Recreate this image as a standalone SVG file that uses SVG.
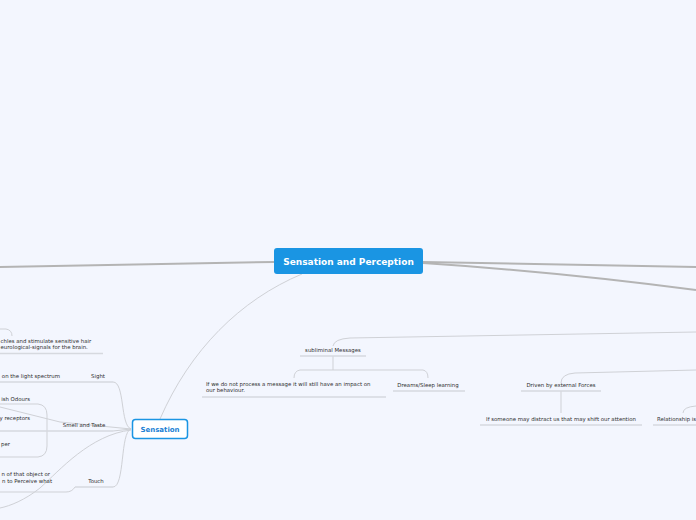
<svg xmlns="http://www.w3.org/2000/svg" width="696" height="520" viewBox="0 0 696 520">
<style>
.t{font-family:"DejaVu Sans",Verdana,sans-serif;font-size:5.4px;fill:#2e2e2e}
.ul{stroke:#d6d9df;stroke-width:1.5;fill:none}
.c{stroke:#cfd1d6;stroke-width:1;fill:none}
.m{stroke:#b4b4b4;stroke-width:2;fill:none}
</style>
<rect width="696" height="520" fill="#f3f6fe"/>
<g id="connectors">
<path class="m" d="M274,262 L0,267"/>
<path class="m" d="M423,262 L696,267"/>
<path class="m" d="M423,263 Q560,272 696,290" stroke-width="1.3"/>
<path class="c" d="M302,274 C240,300 190,350 160,419" stroke="#bdbdbd"/>
<path class="c" d="M333,346 Q334,339 350,338 L696,332"/>
<path class="c" d="M333,356 L333,370 M300,370 L423,370 M300,370 Q294,371 294,378 M423,370 Q428,371 428,378"/>
<path class="c" d="M561,383 Q561,374 575,373 L696,370"/>
<path class="c" d="M561,391 L561,413"/>
<path class="c" d="M683,413 Q683,407 696,406"/>
<path class="c" d="M131,429 C120,425 125,382 113,382"/>
<path class="c" d="M131,429 C120,432 125,487 113,487"/>
<path class="c" d="M131,429 L60,422 L0,407"/>
<path class="c" d="M131,429 L113,431"/>
<path class="c" d="M131,430 C90,435 60,470 40,488 C25,500 10,506 0,508"/>
<path class="c" d="M0,404 L38,404 Q47,405 47,415 L47,446 Q47,456 38,457 L0,457"/>
<path class="c" d="M0,329 L6,329 Q12,330 12,336"/>
<path class="c" d="M75,487 Q72,492 66,492 L0,492"/>
</g>
<g id="central">
<rect x="274" y="248" width="149" height="26" rx="3" fill="#1a95e3"/>
<text x="348.5" y="264.5" text-anchor="middle" style="font-family:'DejaVu Sans',Verdana,sans-serif;font-size:9px;font-weight:bold;fill:#fff">Sensation and Perception</text>
</g>
<g id="sensation">
<rect x="132.5" y="419.5" width="55" height="19" rx="3" fill="#fff" stroke="#1a95e3" stroke-width="1.5"/>
<text x="160" y="431.5" text-anchor="middle" style="font-family:'DejaVu Sans',Verdana,sans-serif;font-size:7px;font-weight:bold;fill:#1a7fd4">Sensation</text>
</g>
<g id="subliminal">
<text class="t" x="333" y="352" text-anchor="middle">subliminal Messages</text>
<path class="ul" d="M300,356 L366,356"/>
</g>
<g id="impact">
<text class="t" x="206" y="386">If we do not process a message it will still have an impact on</text>
<text class="t" x="206" y="392">our behaviour.</text>
<path class="ul" d="M202,397 L386,397"/>
</g>
<g id="dreams">
<text class="t" x="428" y="386.5" text-anchor="middle">Dreams/Sleep learning</text>
<path class="ul" d="M393,391 L465,391"/>
</g>
<g id="driven">
<text class="t" x="561" y="386.5" text-anchor="middle">Driven by external Forces</text>
<path class="ul" d="M521,391 L601,391"/>
</g>
<g id="distract">
<text class="t" x="561" y="421" text-anchor="middle">If someone may distract us that may shift our attention</text>
<path class="ul" d="M480,425 L642,425"/>
</g>
<g id="relationship">
<text class="t" x="657" y="421">Relationship is</text>
<path class="ul" d="M653,425 L696,425"/>
</g>
<g id="hearing">
<text class="t" x="0.5" y="342.5">chles and stimulate sensitive hair</text>
<text class="t" x="0.5" y="349">eurological-signals for the brain.</text>
<path class="ul" d="M0,353.5 L103,353.5"/>
</g>
<g id="sight">
<text class="t" x="98" y="378" text-anchor="middle">Sight</text>
<path class="ul" d="M63,382 L113,382"/>
</g>
<g id="light">
<text class="t" x="60" y="378" text-anchor="end">on the light spectrum</text>
<path class="ul" d="M0,382 L63,382"/>
</g>
<g id="smell">
<text class="t" x="84" y="427" text-anchor="middle">Smell and Taste</text>
<path class="ul" d="M58,431 L113,431"/>
</g>
<g id="odours">
<text class="t" x="30" y="400.5" text-anchor="end">ish Odours</text>
</g>
<g id="receptors">
<text class="t" x="30" y="419.5" text-anchor="end">y receptors</text>
<path class="ul" d="M0,431 L58,431" stroke="#cfd2d8" stroke-width="2"/>
</g>
<g id="paper">
<text class="t" x="10" y="446" text-anchor="end">per</text>
</g>
<g id="touch">
<text class="t" x="96" y="482.5" text-anchor="middle">Touch</text>
<path class="ul" d="M75,487 L113,487"/>
</g>
<g id="perceive">
<text class="t" x="50" y="476" text-anchor="end">n of that object or</text>
<text class="t" x="52" y="482.5" text-anchor="end">n to Perceive what</text>
</g>
</svg>
